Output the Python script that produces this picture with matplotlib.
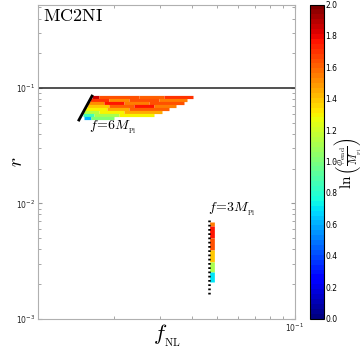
import matplotlib
matplotlib.use('Agg')
import matplotlib.pyplot as plt
from matplotlib import colors, ticker

plt.rcParams['mathtext.fontset'] = 'cm'

# upper region (f = 6 M_Pl): horizontal strips of points, (r, fNL_start, fNL_end, ln(phi_end/M_Pl))
up_r = [0.0835, 0.0835, 0.0835, 0.0835,
        0.0787, 0.0787, 0.0787, 0.0787,
        0.0741, 0.0741, 0.0741, 0.0741,
        0.0698, 0.0698, 0.0698, 0.0698,
        0.0658, 0.0658, 0.0658,
        0.0619, 0.0619, 0.0619,
        0.0583, 0.0583, 0.0583,
        0.0555, 0.0555]
up_f0 = [0.01637, 0.01743, 0.02494, 0.0312,
         0.01608, 0.01906, 0.0228, 0.02983,
         0.01579, 0.01822, 0.0218, 0.02728,
         0.01565, 0.01906, 0.02384, 0.02853,
         0.01537, 0.01873, 0.0228,
         0.0151, 0.01743, 0.0218,
         0.0151, 0.01666, 0.02085,
         0.01524, 0.01623]
up_f1 = [0.01743, 0.02494, 0.0312, 0.04046,
         0.01906, 0.0228, 0.02983, 0.03834,
         0.01822, 0.0218, 0.02728, 0.03733,
         0.01906, 0.02384, 0.02853, 0.03474,
         0.01873, 0.0228, 0.03263,
         0.01743, 0.0218, 0.03065,
         0.01666, 0.02085, 0.02853,
         0.01623, 0.01994]
up_c = [1.85, 1.65, 1.6, 1.7,
        1.7, 1.5, 1.65, 1.55,
        1.5, 1.75, 1.55, 1.65,
        1.4, 1.6, 1.75, 1.55,
        1.3, 1.45, 1.6,
        1.15, 1.3, 1.45,
        0.85, 1.1, 1.3,
        0.6, 1.0]

# lower region (f = 3 M_Pl): vertical strip
lo_f = [0.0478] * 6
lo_r0 = [0.00689, 0.00636, 0.0050, 0.00394, 0.0031, 0.00254]
lo_r1 = [0.00636, 0.0050, 0.00394, 0.0031, 0.00254, 0.00208]
lo_c = [1.55, 1.75, 1.65, 1.4, 1.1, 0.7]

# boundary lines
line6_f = [0.01457, 0.01637]
line6_r = [0.0528, 0.0852]
line3_f = [0.0467, 0.0467]
line3_r = [0.00716, 0.00157]

cmap = plt.get_cmap('jet', 64)
norm = colors.Normalize(vmin=0.0, vmax=2.0)

fig = plt.figure(figsize=(3.64, 3.52), dpi=100)
ax = fig.add_axes([0.104, 0.095, 0.706, 0.892])
cax = fig.add_axes([0.852, 0.095, 0.038, 0.892])

ax.hlines(up_r, up_f0, up_f1, colors=cmap(norm(up_c)), linewidth=2.3)
ax.vlines(lo_f, lo_r0, lo_r1, colors=cmap(norm(lo_c)), linewidth=3.4)
ax.plot(line6_f, line6_r, color='k', lw=2)
ax.plot(line3_f, line3_r, color='k', lw=1.8, linestyle=(0, (0.7, 1.0)))
ax.axhline(0.1, color='#333333', lw=1.2)

ax.set_xscale('log')
ax.set_yscale('log')
ax.set_xlim(0.0101, 0.1)
ax.set_ylim(1e-3, 0.53)
ax.xaxis.set_minor_formatter(ticker.NullFormatter())
ax.yaxis.set_minor_formatter(ticker.NullFormatter())

for s in ax.spines.values():
    s.set_color('#b0b0b0')
ax.tick_params(which='both', direction='in', top=True, right=True, colors='#999999',
               labelcolor='#222222', labelsize=5.5, pad=2)
ax.tick_params(which='major', length=3)
ax.tick_params(which='minor', length=2)

ax.text(0.0106, 0.42, r'$\mathrm{MC2NI}$', fontsize=13, ha='left', va='center')
ax.text(0.01594, 0.0459, r'$f\!=\!6M_{_{\rm Pl}}$', fontsize=10, ha='left', va='center')
ax.text(0.04627, 0.00875, r'$f\!=\!3M_{_{\rm Pl}}$', fontsize=10, ha='left', va='center')

fig.text(167 / 364, 1 - 336 / 352, r'$f_{_{\rm NL}}$', fontsize=16, ha='center', va='center')
fig.text(16 / 364, 1 - 162 / 352, r'$r$', fontsize=14, ha='center', va='center', rotation=90)
fig.text(349 / 364, 1 - 163 / 352, r'$\ln\left(\frac{\phi_{\rm end}}{M_{_{\rm Pl}}}\right)$',
         fontsize=11, ha='center', va='center', rotation=90)

sm = matplotlib.cm.ScalarMappable(norm=norm, cmap=cmap)
cb = fig.colorbar(sm, cax=cax, ticks=[0.0, 0.2, 0.4, 0.6, 0.8, 1.0, 1.2, 1.4, 1.6, 1.8, 2.0])
cb.ax.tick_params(labelsize=5.5, length=0, pad=1)

fig.savefig('out.png', dpi=100)
